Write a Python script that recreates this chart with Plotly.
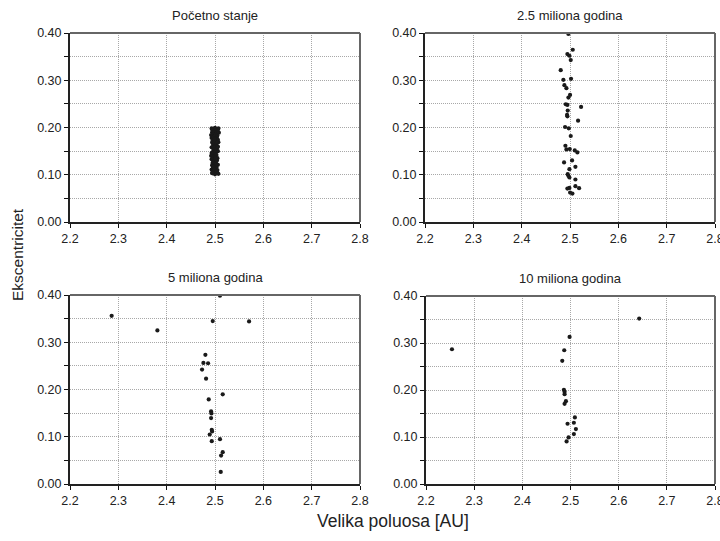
import plotly.graph_objects as go

titles = ["Početno stanje", "2.5 miliona godina", "5 miliona godina", "10 miliona godina"]
x_title = "Velika poluosa [AU]"
y_title = "Ekscentricitet"

# Panel 1: initial state
a0 = [
    2.493, 2.497, 2.500, 2.504, 2.507, 2.495, 2.502, 2.506,
    2.494, 2.498, 2.503, 2.508, 2.496, 2.501, 2.505, 2.492,
    2.499, 2.504, 2.493, 2.497, 2.502, 2.506, 2.495, 2.500,
    2.507, 2.494, 2.498, 2.503, 2.496, 2.501, 2.505, 2.493,
    2.499, 2.504, 2.497, 2.502, 2.506, 2.495, 2.500, 2.494,
    2.498, 2.503, 2.492, 2.496, 2.501, 2.505, 2.493, 2.499,
    2.504, 2.497, 2.502, 2.495, 2.500, 2.506, 2.494, 2.498,
    2.503, 2.496, 2.501, 2.493, 2.505, 2.499, 2.497, 2.502,
    2.495, 2.507, 2.500, 2.494, 2.504, 2.498, 2.496, 2.503,
    2.501, 2.493, 2.506, 2.499,
]
e0 = [
    0.198, 0.197, 0.199, 0.196, 0.198, 0.194, 0.195, 0.192,
    0.190, 0.191, 0.188, 0.189, 0.186, 0.185, 0.183, 0.184,
    0.181, 0.180, 0.178, 0.177, 0.176, 0.174, 0.172, 0.171,
    0.169, 0.168, 0.166, 0.165, 0.163, 0.161, 0.160, 0.158,
    0.157, 0.155, 0.153, 0.152, 0.150, 0.148, 0.147, 0.145,
    0.143, 0.142, 0.140, 0.138, 0.137, 0.135, 0.133, 0.132,
    0.130, 0.128, 0.127, 0.125, 0.123, 0.121, 0.120, 0.118,
    0.116, 0.115, 0.113, 0.111, 0.110, 0.108, 0.106, 0.105,
    0.103, 0.102, 0.101, 0.104, 0.107, 0.112, 0.117, 0.122,
    0.134, 0.146, 0.159, 0.175,
]

# Panel 2: 2.5 million years
a1 = [2.4967, 2.5057, 2.4946, 2.4988, 2.5015, 2.4808, 2.5022, 2.4863, 2.4884, 2.4926,
      2.5001, 2.4967, 2.4912, 2.4946, 2.5229, 2.4953, 2.4939, 2.4946, 2.5167, 2.4898,
      2.4974, 2.5015, 2.4905, 2.4926, 2.4995, 2.5098, 2.5153, 2.5043, 2.4877, 2.5112,
      2.4988, 2.4953, 2.4967, 2.4988, 2.5112, 2.5112, 2.5188, 2.4988, 2.4946, 2.5002,
      2.5050]
e1 = [0.398, 0.3646, 0.3554, 0.3519, 0.3427, 0.3214, 0.303, 0.3009, 0.2896, 0.2832,
      0.269, 0.2634, 0.2492, 0.2478, 0.2436, 0.2358, 0.2266, 0.2237, 0.2145, 0.2011,
      0.1982, 0.182, 0.1614, 0.1536, 0.1543, 0.1515, 0.1473, 0.1303, 0.126, 0.1168,
      0.1119, 0.1012, 0.0977, 0.0942, 0.0899, 0.0758, 0.0715, 0.0722, 0.0708, 0.0623,
      0.0602]

# Panel 3: 5 million years
a2 = [2.5103, 2.2862, 2.4953, 2.5705, 2.3808, 2.4801, 2.4760, 2.4857, 2.4732, 2.4815,
      2.5160, 2.4870, 2.4919, 2.4926, 2.4919, 2.4933, 2.4940, 2.4891, 2.5103, 2.4933,
      2.5160, 2.5126, 2.5119]
e2 = [0.3986, 0.356, 0.3448, 0.3441, 0.325, 0.2733, 0.2563, 0.2556, 0.2421, 0.223,
      0.1897, 0.1791, 0.1536, 0.1494, 0.1395, 0.1147, 0.1112, 0.1048, 0.0949, 0.0906,
      0.0673, 0.0602, 0.0255]

# Panel 4: 10 million years
a3 = [2.2539, 2.6426, 2.4981, 2.4870, 2.4829, 2.4863, 2.4877, 2.4877, 2.4905, 2.4877,
      2.5091, 2.4939, 2.5070, 2.5112, 2.5070, 2.4960, 2.4919]
e3 = [0.2867, 0.3519, 0.313, 0.2846, 0.262, 0.2004, 0.1961, 0.1912, 0.1763, 0.1706,
      0.1416, 0.1282, 0.1303, 0.1168, 0.1062, 0.0991, 0.0906]

x_ticks = [2.2, 2.3, 2.4, 2.5, 2.6, 2.7, 2.8]
y_ticks = [0.0, 0.1, 0.2, 0.3, 0.4]

W, H = 720, 541
panels = [
    (a0, e0, (70, 360), (33, 222)),
    (a1, e1, (425, 715), (33, 222)),
    (a2, e2, (70, 360), (295, 484)),
    (a3, e3, (426, 715), (296, 484)),
]

FONT = "Liberation Sans, Arial, sans-serif"
GRID = "#a8a8a8"
fig = go.Figure()
annotations = []
shapes = []
for i, (a, e, (x0, x1), (y0, y1)) in enumerate(panels):
    n = "" if i == 0 else str(i + 1)
    fig.add_trace(go.Scatter(
        x=a, y=e, mode="markers",
        marker=dict(size=4.2, color="#1a1a1a"),
        xaxis="x" + n, yaxis="y" + n, showlegend=False, hoverinfo="x+y",
    ))
    xd = [x0 / W, x1 / W]
    yd = [1 - y1 / H, 1 - y0 / H]
    common = dict(
        showgrid=True, gridcolor=GRID, griddash="1px,1px", gridwidth=1,
        ticks="outside", ticklen=4, tickcolor="#111", tickwidth=1,
        showline=True, linecolor="#222", linewidth=2, mirror=False,
        zeroline=False, tickfont=dict(family=FONT, size=12.5, color="#222"),
        fixedrange=True, automargin=False, ticklabeloverflow="allow",
    )
    fig.update_layout(**{
        "xaxis" + n: dict(common, domain=xd, anchor="y" + n, range=[2.2, 2.8],
                          tickvals=x_ticks, tickformat=".1f"),
        "yaxis" + n: dict(common, domain=yd, anchor="x" + n, range=[0, 0.4],
                          tickvals=y_ticks, tickformat=".2f",
                          minor=dict(dtick=0.05, tick0=0, showgrid=True, gridcolor=GRID,
                                     griddash="1px,1px", ticks="outside", ticklen=4,
                                     tickcolor="#111")),
    })
    # top and right frame edges (gray)
    shapes.append(dict(type="line", xref="x" + n + " domain", yref="y" + n + " domain",
                       x0=0, x1=1, y0=1, y1=1, line=dict(color="#666", width=2)))
    shapes.append(dict(type="line", xref="x" + n + " domain", yref="y" + n + " domain",
                       x0=1, x1=1, y0=0, y1=1, line=dict(color="#666", width=2)))
    annotations.append(dict(
        text=titles[i], xref="paper", yref="paper",
        x=(xd[0] + xd[1]) / 2, y=yd[1] + 18 / H, xanchor="center", yanchor="middle",
        showarrow=False, font=dict(family=FONT, size=13, color="#222"),
    ))

annotations.append(dict(text=y_title, xref="paper", yref="paper", x=18 / W, y=1 - 255 / H,
                        textangle=-90, showarrow=False, xanchor="center", yanchor="middle",
                        font=dict(family=FONT, size=15.5, color="#222")))
annotations.append(dict(text=x_title, xref="paper", yref="paper", x=393 / W, y=1 - 521 / H,
                        showarrow=False, xanchor="center", yanchor="middle",
                        font=dict(family=FONT, size=17.5, color="#222")))

fig.update_layout(
    width=W, height=H, margin=dict(l=0, r=0, t=0, b=0, pad=0, autoexpand=False),
    paper_bgcolor="white", plot_bgcolor="white",
    annotations=annotations, shapes=shapes,
    font=dict(family=FONT),
)
fig.write_html(
    "out.html",
    config={"displayModeBar": False},
    post_script=(
        "document.documentElement.style.margin='0';"
        "document.body.style.margin='0';"
        "document.body.style.padding='0';"
        "document.documentElement.style.overflow='hidden';"
        "document.body.style.overflow='hidden';"
    ),
)
